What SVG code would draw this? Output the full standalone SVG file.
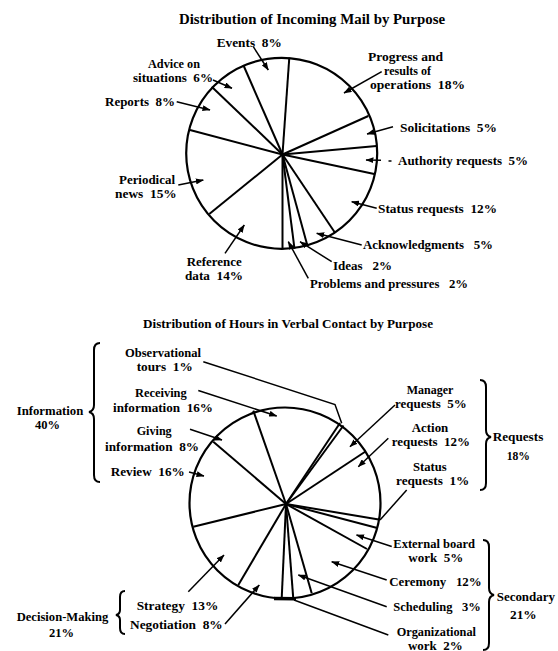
<svg xmlns="http://www.w3.org/2000/svg" width="558" height="651" viewBox="0 0 558 651">
<defs>
<marker id="ah" markerWidth="8" markerHeight="6" refX="7.5" refY="3" orient="auto" markerUnits="userSpaceOnUse"><path d="M0,0 L8,3 L0,6 z" fill="#000"/></marker>
<style>
text{font-family:"Liberation Serif","Times New Roman",serif;font-weight:bold;fill:#000;}
.t1{font-size:14px;}
.l1{font-size:13px;}
.l2{font-size:12px;}
.pie{fill:none;stroke:#000;stroke-width:2.2;}
.sp{stroke:#000;stroke-width:2;fill:none;}
.ld{stroke:#000;stroke-width:1.5;fill:none;marker-end:url(#ah);}
.lp{stroke:#000;stroke-width:1.5;fill:none;}
.br{stroke:#000;stroke-width:2;fill:none;}
</style>
</defs>
<rect width="558" height="651" fill="#fff"/>

<!-- Top chart -->
<text class="t1" x="179" y="24" textLength="266" lengthAdjust="spacingAndGlyphs">Distribution of Incoming Mail by Purpose</text>
<g id="pie1">
<circle class="pie" cx="281.7" cy="153.3" r="95.5"/>
<g class="sp">
<line x1="282.5" y1="154.5" x2="289.3" y2="57.5"/>
<line x1="282.5" y1="154.5" x2="243.3" y2="65"/>
<line x1="282.5" y1="154.5" x2="211.7" y2="86.7"/>
<line x1="282.5" y1="154.5" x2="190" y2="130"/>
<line x1="282.5" y1="154.5" x2="209.3" y2="214"/>
<line x1="282.5" y1="154.5" x2="282.5" y2="249.3"/>
<line x1="282.5" y1="154.5" x2="294.5" y2="248.8"/>
<line x1="282.5" y1="154.5" x2="307.5" y2="246"/>
<line x1="282.5" y1="154.5" x2="335" y2="232.7"/>
<line x1="282.5" y1="154.5" x2="374.3" y2="174"/>
<line x1="282.5" y1="154.5" x2="376.5" y2="146"/>
<line x1="282.5" y1="154.5" x2="368.3" y2="116"/>
</g>
</g>

<g id="connectors1">
<line class="ld" x1="253.3" y1="46.7" x2="268.3" y2="70"/>
<line class="ld" x1="213" y1="80" x2="232" y2="88.3"/>
<line class="ld" x1="176.7" y1="101.7" x2="210" y2="110"/>
<line class="ld" x1="381.7" y1="71.7" x2="344" y2="93"/>
<line class="ld" x1="393" y1="126.7" x2="367" y2="134"/>
<line class="ld" x1="381" y1="160.3" x2="366" y2="160"/>
<line class="lp" x1="388.5" y1="161" x2="391.5" y2="161"/>
<line class="ld" x1="376.7" y1="208.3" x2="351.7" y2="201.7"/>
<line class="ld" x1="361.7" y1="245" x2="316.7" y2="233.3"/>
<line class="ld" x1="331.7" y1="261.7" x2="300" y2="241.7"/>
<line class="ld" x1="308.3" y1="278.3" x2="288.3" y2="241.7"/>
<line class="ld" x1="225" y1="253.3" x2="244.3" y2="225"/>
<line class="ld" x1="178.3" y1="185" x2="203.3" y2="180"/>
</g>

<g id="events"><text class="l1" x="216.7" y="46.5" textLength="65" lengthAdjust="spacingAndGlyphs" xml:space="preserve">Events  8%</text></g>
<g id="advice"><text class="l1" x="148" y="68" textLength="52" lengthAdjust="spacingAndGlyphs">Advice on</text><text class="l1" x="133" y="82" textLength="80" lengthAdjust="spacingAndGlyphs" xml:space="preserve">situations  6%</text></g>
<g id="reports"><text class="l1" x="105" y="105.5" textLength="70" lengthAdjust="spacingAndGlyphs" xml:space="preserve">Reports  8%</text></g>
<g id="progress"><text class="l2" x="368" y="60.5" textLength="75" lengthAdjust="spacingAndGlyphs">Progress and</text><text class="l2" x="384" y="74.5" textLength="47" lengthAdjust="spacingAndGlyphs">results of</text><text class="l2" x="370" y="88.5" textLength="95" lengthAdjust="spacingAndGlyphs" xml:space="preserve">operations  18%</text></g>
<g id="solicitations"><text class="l1" x="400" y="132" textLength="97" lengthAdjust="spacingAndGlyphs" xml:space="preserve">Solicitations  5%</text></g>
<g id="authority"><text class="l1" x="398" y="165" textLength="130" lengthAdjust="spacingAndGlyphs" xml:space="preserve">Authority requests  5%</text></g>
<g id="status1"><text class="l1" x="378" y="213" textLength="119" lengthAdjust="spacingAndGlyphs" xml:space="preserve">Status requests  12%</text></g>
<g id="ack"><text class="l1" x="363" y="248.5" textLength="130" lengthAdjust="spacingAndGlyphs" xml:space="preserve">Acknowledgments   5%</text></g>
<g id="ideas"><text class="l1" x="333" y="269.5" textLength="59" lengthAdjust="spacingAndGlyphs" xml:space="preserve">Ideas   2%</text></g>
<g id="problems"><text class="l1" x="310" y="288" textLength="158" lengthAdjust="spacingAndGlyphs" xml:space="preserve">Problems and pressures   2%</text></g>
<g id="reference"><text class="l1" x="186.7" y="266" textLength="55" lengthAdjust="spacingAndGlyphs">Reference</text><text class="l1" x="185" y="280" textLength="58" lengthAdjust="spacingAndGlyphs" xml:space="preserve">data  14%</text></g>
<g id="periodical"><text class="l1" x="119" y="184" textLength="56" lengthAdjust="spacingAndGlyphs">Periodical</text><text class="l1" x="115" y="198" textLength="61.7" lengthAdjust="spacingAndGlyphs" xml:space="preserve">news  15%</text></g>

<!-- Bottom chart -->
<text class="t1" x="143" y="328" textLength="290" lengthAdjust="spacingAndGlyphs" style="font-size:13px">Distribution of Hours in Verbal Contact by Purpose</text>
<g id="pie2">
<circle class="pie" cx="285" cy="503" r="95.5"/>
<g class="sp">
<line x1="286" y1="504" x2="253.3" y2="410.7"/>
<line x1="286" y1="504" x2="340" y2="423"/>
<line x1="286" y1="504" x2="343.5" y2="425.5"/>
<line x1="286" y1="504" x2="365.5" y2="451.5"/>
<line x1="286" y1="504" x2="378.8" y2="519.5"/>
<line x1="286" y1="504" x2="377.3" y2="528"/>
<line x1="286" y1="504" x2="367" y2="549"/>
<line x1="286" y1="504" x2="311.7" y2="593.3"/>
<line x1="286" y1="504" x2="293.3" y2="598.8"/>
<line x1="286" y1="504" x2="281.7" y2="598.5"/>
<line x1="286" y1="504" x2="238.3" y2="585"/>
<line x1="286" y1="504" x2="193.3" y2="526.7"/>
<line x1="286" y1="504" x2="213.3" y2="441.7"/>
</g>
<line x1="274" y1="598.5" x2="296" y2="598.8" stroke="#000" stroke-width="3.5"/>
</g>

<g id="connectors2">
<polyline class="lp" points="203.3,361.7 335,404.5 341.7,423.3"/>
<line class="ld" x1="198.3" y1="390.5" x2="276.7" y2="416"/>
<line class="ld" x1="190" y1="429.3" x2="222" y2="440"/>
<line class="ld" x1="189" y1="472" x2="204" y2="476"/>
<line class="ld" x1="395" y1="405" x2="350" y2="446.7"/>
<line class="ld" x1="388.3" y1="438.3" x2="358.3" y2="466.7"/>
<line class="lp" x1="406.7" y1="490" x2="380" y2="520"/>
<line class="ld" x1="391.7" y1="546.5" x2="356.5" y2="535"/>
<line class="ld" x1="386.7" y1="580" x2="331.7" y2="561.7"/>
<line class="ld" x1="386.7" y1="606.7" x2="298.3" y2="575"/>
<line class="lp" x1="388.3" y1="635" x2="294" y2="600"/>
<line class="ld" x1="188.3" y1="591.7" x2="224" y2="555"/>
<line class="ld" x1="225" y1="624" x2="259.3" y2="585"/>
</g>

<g id="observational"><text class="l2" x="125" y="357" textLength="76" lengthAdjust="spacingAndGlyphs">Observational</text><text class="l2" x="136.7" y="371" textLength="56" lengthAdjust="spacingAndGlyphs" xml:space="preserve">tours  1%</text></g>
<g id="receiving"><text class="l2" x="135" y="397" textLength="51.7" lengthAdjust="spacingAndGlyphs">Receiving</text><text class="l2" x="113" y="412" textLength="100" lengthAdjust="spacingAndGlyphs" xml:space="preserve">information  16%</text></g>
<g id="giving"><text class="l2" x="136.7" y="435" textLength="35" lengthAdjust="spacingAndGlyphs">Giving</text><text class="l2" x="105" y="450.5" textLength="94" lengthAdjust="spacingAndGlyphs" xml:space="preserve">information  8%</text></g>
<g id="review"><text class="l2" x="110.7" y="476" textLength="74" lengthAdjust="spacingAndGlyphs" xml:space="preserve">Review  16%</text></g>
<g id="information">
<path class="br" d="M100,343 Q94,343 94,350 L94,405 Q94,411 89,412 Q94,413 94,419 L94,475 Q94,482 100,482"/>
<text class="l2" x="16.7" y="415" textLength="66.6" lengthAdjust="spacingAndGlyphs">Information</text><text class="l2" x="35" y="429" textLength="25" lengthAdjust="spacingAndGlyphs">40%</text>
</g>
<g id="manager"><text class="l2" x="406.7" y="394" textLength="46.6" lengthAdjust="spacingAndGlyphs">Manager</text><text class="l2" x="395" y="408" textLength="71.7" lengthAdjust="spacingAndGlyphs" xml:space="preserve">requests  5%</text></g>
<g id="action"><text class="l2" x="411.7" y="432" textLength="36.6" lengthAdjust="spacingAndGlyphs">Action</text><text class="l2" x="391.7" y="446" textLength="78.3" lengthAdjust="spacingAndGlyphs" xml:space="preserve">requests  12%</text></g>
<g id="status2"><text class="l2" x="413" y="470.5" textLength="33.7" lengthAdjust="spacingAndGlyphs">Status</text><text class="l2" x="396" y="485" textLength="73.3" lengthAdjust="spacingAndGlyphs" xml:space="preserve">requests  1%</text></g>
<g id="requests">
<path class="br" d="M480,380 Q486,380 486,387 L486,430 Q486,436 491,437 Q486,438 486,444 L486,483 Q486,490 480,490"/>
<text class="l2" x="492.7" y="441" textLength="50.6" lengthAdjust="spacingAndGlyphs">Requests</text><text class="l2" x="506.7" y="460" textLength="23.3" lengthAdjust="spacingAndGlyphs">18%</text>
</g>
<g id="external"><text class="l2" x="393.3" y="547.5" textLength="81.7" lengthAdjust="spacingAndGlyphs">External board</text><text class="l2" x="408.3" y="561.5" textLength="55" lengthAdjust="spacingAndGlyphs" xml:space="preserve">work  5%</text></g>
<g id="ceremony"><text class="l2" x="389.3" y="585.5" textLength="92.4" lengthAdjust="spacingAndGlyphs" xml:space="preserve">Ceremony   12%</text></g>
<g id="scheduling"><text class="l2" x="393.3" y="611" textLength="87.4" lengthAdjust="spacingAndGlyphs" xml:space="preserve">Scheduling   3%</text></g>
<g id="organizational"><text class="l2" x="396.7" y="635.5" textLength="79.3" lengthAdjust="spacingAndGlyphs">Organizational</text><text class="l2" x="408" y="649.5" textLength="54.7" lengthAdjust="spacingAndGlyphs" xml:space="preserve">work  2%</text></g>
<g id="secondary">
<path class="br" d="M483,540 Q489,540 489,547 L489,588 Q489,594 494,595 Q489,596 489,602 L489,643 Q489,650 483,650"/>
<text class="l2" x="496.7" y="600.5" textLength="58.3" lengthAdjust="spacingAndGlyphs">Secondary</text><text class="l2" x="510" y="618.5" textLength="26.7" lengthAdjust="spacingAndGlyphs">21%</text>
</g>
<g id="strategy"><text class="l2" x="136.7" y="609.5" textLength="81.6" lengthAdjust="spacingAndGlyphs" xml:space="preserve">Strategy  13%</text></g>
<g id="negotiation"><text class="l2" x="130" y="628.5" textLength="92.7" lengthAdjust="spacingAndGlyphs" xml:space="preserve">Negotiation  8%</text></g>
<g id="decision">
<path class="br" d="M125,591 Q120,591 120,597 L120,610 Q120,614 116,615 Q120,616 120,620 L120,628 Q120,634 125,634"/>
<text class="l2" x="16.7" y="621" textLength="91.6" lengthAdjust="spacingAndGlyphs">Decision-Making</text><text class="l2" x="49" y="637" textLength="25" lengthAdjust="spacingAndGlyphs">21%</text>
</g>
</svg>
